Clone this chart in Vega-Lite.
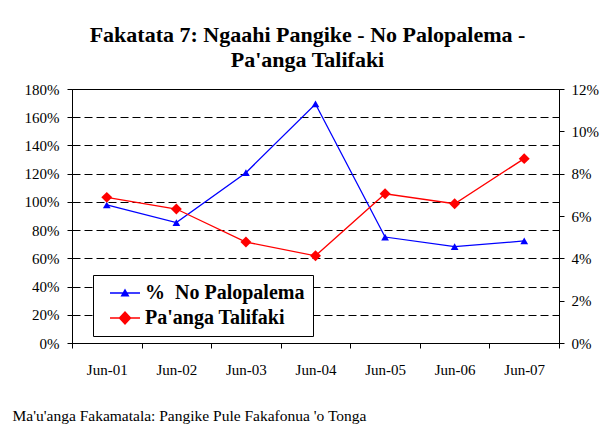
{
  "$schema": "https://vega.github.io/schema/vega-lite/v6.json",
  "width": 487,
  "height": 254,
  "autosize": "none",
  "padding": {"left": 72, "top": 89, "right": 42, "bottom": 84},
  "background": "white",
  "title": {
    "text": ["Fakatata 7: Ngaahi Pangike - No Palopalema -", "Pa'anga Talifaki"],
    "anchor": "middle",
    "dx": -8,
    "offset": 10,
    "font": "Liberation Serif",
    "fontSize": 22,
    "fontWeight": "bold",
    "color": "black",
    "lineHeight": 25
  },
  "config": {
    "view": {"stroke": "black", "strokeWidth": 1},
    "axis": {
      "labelFont": "Liberation Serif",
      "labelFontSize": 15,
      "labelColor": "black",
      "domainColor": "black",
      "tickColor": "black",
      "tickSize": 5,
      "titleFont": "Liberation Serif"
    }
  },
  "data": {
    "values": [
      {"month": "Jun-01", "series": "% No Palopalema", "v": 0.978},
      {"month": "Jun-02", "series": "% No Palopalema", "v": 0.853},
      {"month": "Jun-03", "series": "% No Palopalema", "v": 1.207},
      {"month": "Jun-04", "series": "% No Palopalema", "v": 1.694},
      {"month": "Jun-05", "series": "% No Palopalema", "v": 0.751},
      {"month": "Jun-06", "series": "% No Palopalema", "v": 0.683},
      {"month": "Jun-07", "series": "% No Palopalema", "v": 0.723},
      {"month": "Jun-01", "series": "Pa'anga Talifaki", "v": 0.0688},
      {"month": "Jun-02", "series": "Pa'anga Talifaki", "v": 0.0633},
      {"month": "Jun-03", "series": "Pa'anga Talifaki", "v": 0.0477},
      {"month": "Jun-04", "series": "Pa'anga Talifaki", "v": 0.0412},
      {"month": "Jun-05", "series": "Pa'anga Talifaki", "v": 0.0705},
      {"month": "Jun-06", "series": "Pa'anga Talifaki", "v": 0.0658},
      {"month": "Jun-07", "series": "Pa'anga Talifaki", "v": 0.0871}
    ]
  },
  "encoding": {
    "x": {
      "field": "month",
      "type": "ordinal",
      "scale": {"type": "band", "paddingInner": 0, "paddingOuter": 0},
      "axis": {
        "title": "Ma'u'anga Fakamatala: Pangike Pule Fakafonua 'o Tonga",
        "titleFont": "Liberation Serif",
        "titleFontSize": 15.5,
        "titleFontWeight": "normal",
        "titleColor": "black",
        "titleAnchor": "start",
        "titleAlign": "left",
        "titleBaseline": "middle",
        "titleX": -60,
        "titleY": 72,
        "labelAngle": 0,
        "labelPadding": 14,
        "tickBand": "extent",
        "grid": false
      }
    }
  },
  "layer": [
    {
      "transform": [{"filter": "datum.series === '% No Palopalema'"}],
      "encoding": {
        "y": {
          "field": "v",
          "type": "quantitative",
          "scale": {"domain": [0, 1.8], "nice": false},
          "axis": {
            "orient": "left",
            "title": null,
            "format": ".0%",
            "values": [0, 0.2, 0.4, 0.6, 0.8, 1.0, 1.2, 1.4, 1.6, 1.8],
            "labelPadding": 8,
            "grid": true,
            "gridColor": "black",
            "gridDash": [8, 4],
            "gridWidth": 1
          }
        }
      },
      "layer": [
        {
          "mark": {"type": "line", "strokeWidth": 1.3},
          "encoding": {
            "color": {
              "field": "series",
              "type": "nominal",
              "scale": {"domain": ["% No Palopalema", "Pa'anga Talifaki"], "range": ["#0000FF", "#FF0000"]},
              "legend": {
                "orient": "none",
                "legendX": 21,
                "legendY": 186,
                "title": null,
                "labelFont": "Liberation Serif",
                "labelFontSize": 20,
                "labelFontWeight": "bold",
                "labelColor": "black",
                "labelExpr": "datum.label === '% No Palopalema' ? '%\u00a0 No Palopalema' : datum.label",
                "symbolSize": 400,
                "symbolOffset": 14,
                "labelOffset": 10,
                "rowPadding": 5,
                "padding": 8,
                "strokeColor": "black",
                "fillColor": "white",
                "cornerRadius": 0,
                "encode": {
                  "symbols": {
                    "update": {
                      "shape": {"signal": "datum.value === '% No Palopalema' ? 'M-1.5,-0.065H1.5V0.065H-1.5Z M-0.45,0.35L0,-0.45L0.45,0.35Z' : 'M-1.5,-0.065H1.5V0.065H-1.5Z M0,-0.7L0.65,0L0,0.7L-0.65,0Z'"},
                      "fill": {"signal": "datum.value === '% No Palopalema' ? '#0000FF' : '#FF0000'"},
                      "stroke": {"value": "transparent"},
                      "strokeWidth": {"value": 0}
                    }
                  }
                }
              }
            }
          }
        },
        {
          "mark": {"type": "point", "shape": "triangle-up", "filled": true, "size": 60, "color": "#0000FF", "opacity": 1}
        }
      ]
    },
    {
      "transform": [{"filter": "datum.series === \"Pa'anga Talifaki\""}],
      "encoding": {
        "y": {
          "field": "v",
          "type": "quantitative",
          "scale": {"domain": [0, 0.12], "nice": false},
          "axis": {
            "orient": "right",
            "title": null,
            "format": ".0%",
            "values": [0, 0.02, 0.04, 0.06, 0.08, 0.1, 0.12],
            "labelPadding": 7,
            "grid": false
          }
        }
      },
      "layer": [
        {
          "mark": {"type": "line", "strokeWidth": 1.3},
          "encoding": {
            "color": {"field": "series", "type": "nominal"}
          }
        },
        {
          "mark": {"type": "point", "shape": "diamond", "filled": true, "size": 120, "color": "#FF0000", "opacity": 1}
        }
      ]
    }
  ],
  "resolve": {"scale": {"y": "independent"}}
}
